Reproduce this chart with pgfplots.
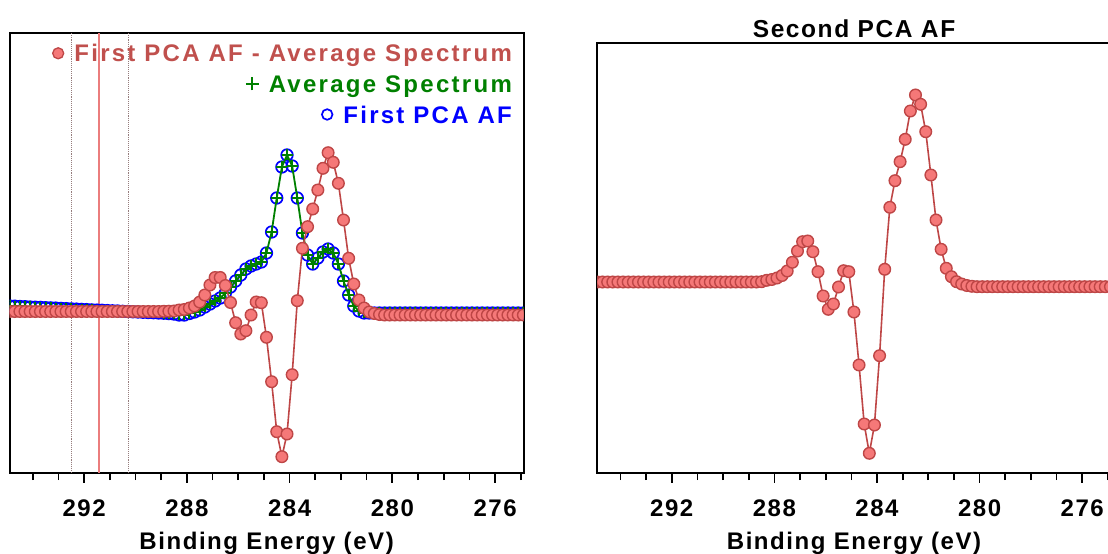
\documentclass[border=0pt]{standalone}
\usepackage{pgfplots}
\pgfplotsset{compat=1.18}
\usepackage{pgfplotstable}
\usepackage{fontspec}
\setmainfont{Liberation Sans}[LetterSpace=6.5]
\newfontfamily\legfont{Liberation Sans}[LetterSpace=9.5]
\definecolor{redfill}{RGB}{245,120,120}
\definecolor{redline}{RGB}{190,70,70}
\definecolor{redtext}{RGB}{192,80,77}
\definecolor{grn}{RGB}{0,128,0}
\definecolor{blu}{RGB}{0,0,255}
\definecolor{vline}{RGB}{235,125,125}
\definecolor{dotl}{RGB}{150,125,125}

% First panel: E, First PCA AF - Average, Average Spectrum, First PCA AF
\pgfplotstableread{
E     diff   avg    pca
294.9 161.5 167.0 167.0
294.7 161.5 166.8 166.8
294.5 161.5 166.5 166.5
294.3 161.5 166.3 166.3
294.1 161.5 166.0 166.0
293.9 161.5 165.8 165.8
293.7 161.5 165.6 165.6
293.5 161.5 165.3 165.3
293.3 161.5 165.1 165.1
293.1 161.5 164.9 164.9
292.9 161.5 164.6 164.6
292.7 161.5 164.4 164.4
292.5 161.5 164.1 164.1
292.3 161.5 163.9 163.9
292.1 161.5 163.6 163.6
291.9 161.5 163.4 163.4
291.7 161.5 163.1 163.1
291.5 161.5 162.9 162.9
291.3 161.5 162.7 162.7
291.1 161.5 162.4 162.4
290.9 161.5 162.2 162.2
290.7 161.5 162.0 162.0
290.5 161.5 161.7 161.7
290.3 161.5 161.5 161.5
290.1 161.5 161.2 161.2
289.9 161.5 161.0 161.0
289.7 161.5 160.7 160.7
289.5 161.5 160.5 160.5
289.3 161.5 160.3 160.3
289.1 161.5 160.0 160.0
288.9 161.7 159.8 159.8
288.7 161.8 159.4 159.4
288.5 162.0 159.0 159.0
288.3 163.0 158.0 158.0
288.1 163.5 158.0 158.0
287.9 165.0 159.5 159.5
287.7 167.0 161.0 161.0
287.5 171.0 163.0 163.0
287.3 178.0 166.0 166.0
287.1 188.0 169.0 169.0
286.9 195.5 172.0 172.0
286.7 195.5 175.0 175.0
286.5 187.5 180.0 180.0
286.3 170.5 186.0 186.0
286.1 150.3 192.0 192.0
285.9 139.0 198.0 198.0
285.7 142.3 204.0 204.0
285.5 158.0 207.0 207.0
285.3 171.0 209.0 209.0
285.1 170.3 211.0 211.0
284.9 135.7 220.0 220.0
284.7  91.3 241.0 241.0
284.5  41.3 275.0 275.0
284.3  16.3 306.0 306.0
284.1  39.0 318.0 318.0
283.9  98.3 307.0 307.0
283.7 172.3 275.0 275.0
283.5 224.7 240.0 240.0
283.3 246.3 218.0 218.0
283.1 264.0 209.0 209.0
282.9 283.0 215.0 215.0
282.7 304.7 221.0 221.0
282.5 320.3 224.0 224.0
282.3 310.7 220.0 220.0
282.1 289.7 209.0 209.0
281.9 253.0 192.0 192.0
281.7 214.7 178.0 178.0
281.5 189.0 167.0 167.0
281.3 173.0 162.0 162.0
281.1 165.0 160.0 160.0
280.9 161.0 160.0 160.0
280.7 159.5 160.0 160.0
280.5 158.5 160.0 160.0
280.3 158.0 160.0 160.0
280.1 158.0 160.0 160.0
279.9 158.0 160.0 160.0
279.7 158.0 160.0 160.0
279.5 158.0 160.0 160.0
279.3 158.0 160.0 160.0
279.1 158.0 160.0 160.0
278.9 158.0 160.0 160.0
278.7 158.0 160.0 160.0
278.5 158.0 160.0 160.0
278.3 158.0 160.0 160.0
278.1 158.0 160.0 160.0
277.9 158.0 160.0 160.0
277.7 158.0 160.0 160.0
277.5 158.0 160.0 160.0
277.3 158.0 160.0 160.0
277.1 158.0 160.0 160.0
276.9 158.0 160.0 160.0
276.7 158.0 160.0 160.0
276.5 158.0 160.0 160.0
276.3 158.0 160.0 160.0
276.1 158.0 160.0 160.0
275.9 158.0 160.0 160.0
275.7 158.0 160.0 160.0
275.5 158.0 160.0 160.0
275.3 158.0 160.0 160.0
275.1 158.0 160.0 160.0
274.9 158.0 160.0 160.0
}\leftdata

% Second panel: E, Second PCA AF
\pgfplotstableread{
E     sec
294.9 191.0
294.7 191.0
294.5 191.0
294.3 191.0
294.1 191.0
293.9 191.0
293.7 191.0
293.5 191.0
293.3 191.0
293.1 191.0
292.9 191.0
292.7 191.0
292.5 191.0
292.3 191.0
292.1 191.0
291.9 191.0
291.7 191.0
291.5 191.0
291.3 191.0
291.1 191.0
290.9 191.0
290.7 191.0
290.5 191.0
290.3 191.0
290.1 191.0
289.9 191.0
289.7 191.0
289.5 191.0
289.3 191.0
289.1 191.0
288.9 191.0
288.7 191.0
288.5 191.3
288.3 192.7
288.1 193.5
287.9 195.0
287.7 197.5
287.5 202.0
287.3 210.7
287.1 222.0
286.9 231.3
286.7 232.0
286.5 221.3
286.3 201.3
286.1 177.0
285.9 163.7
285.7 169.0
285.5 186.0
285.3 202.3
285.1 201.3
284.9 161.0
284.7 108.0
284.5  49.0
284.3  19.7
284.1  48.0
283.9 117.3
283.7 203.7
283.5 265.7
283.3 292.3
283.1 311.3
282.9 333.7
282.7 362.0
282.5 378.0
282.3 368.7
282.1 341.3
281.9 298.0
281.7 253.0
281.5 223.7
281.3 204.7
281.1 196.3
280.9 191.3
280.7 189.0
280.5 187.5
280.3 186.7
280.1 186.3
279.9 186.3
279.7 186.3
279.5 186.3
279.3 186.3
279.1 186.3
278.9 186.3
278.7 186.3
278.5 186.3
278.3 186.3
278.1 186.3
277.9 186.3
277.7 186.3
277.5 186.3
277.3 186.3
277.1 186.3
276.9 186.3
276.7 186.3
276.5 186.3
276.3 186.3
276.1 186.3
275.9 186.3
275.7 186.3
275.5 186.3
275.3 186.3
275.1 186.3
274.9 186.3
}\rightdata

\pgfplotsset{
  panel/.style={
    scale only axis,
    x dir=reverse,
    xmin=274.89, xmax=294.9,
    ymin=0.3,
    clip marker paths=true,
    axis line style={line width=1.9pt, black},
    ytick=\empty,
    xtick={276,280,284,288,292},
    minor xtick={275,276,...,294},
    xtick pos=bottom,
    tick align=outside,
    major tick length=10pt,
    minor tick length=7.5pt,
    major tick style={line width=1.7pt, black},
    minor tick style={line width=1.7pt, black},
    /pgf/number format/assume math mode=true,
    xticklabel style={font=\fontsize{24}{24}\selectfont\bfseries, anchor=north, inner sep=0pt, yshift=-16.7pt},
    xlabel={Binding Energy (eV)},
    xlabel style={font=\fontsize{24}{24}\selectfont\bfseries, at={(axis description cs:0.5,0)}, anchor=base, yshift=-76.6pt},
  },
  redplot/.style={color=redline, line width=1.6pt, mark=*, mark size=5.8pt,
    mark options={fill=redfill, draw=redline, line width=1.4pt}},
}

\begin{document}
\begin{tikzpicture}
\useasboundingbox (0,0) rectangle (1108pt,554pt);

\begin{axis}[panel,
  at={(9.6pt,81.3pt)}, anchor=south west,
  width=514pt, height=439.7pt, ymax=440,
  legend image code/.code={},
  legend cell align=right,
  legend style={at={(axis description cs:1,1)}, anchor=north east,
    xshift=-11.7pt, yshift=-11.7pt, draw=none, fill=none,
    inner sep=0pt, outer sep=0pt, row sep=8.4pt,
    font=\legfont\fontsize{24}{24}\selectfont\bfseries,
    nodes={inner sep=0pt, text height=17.2pt, text depth=5pt}},
]
\addplot[dotl, line width=0.9pt, densely dotted, forget plot] coordinates {(292.51,0.3) (292.51,440)};
\addplot[vline, line width=2pt, forget plot] coordinates {(291.40,0.3) (291.40,440)};
\addplot[dotl, line width=0.9pt, densely dotted, forget plot] coordinates {(290.29,0.3) (290.29,440)};

\addplot[blu, only marks, mark=o, mark size=5.8pt, line width=1.7pt, forget plot] table[x=E, y=pca] {\leftdata};
\addplot[grn, line width=1.8pt, mark=+, mark size=5.5pt, mark options={line width=2pt}, forget plot] table[x=E, y=avg] {\leftdata};
\addplot[redplot, forget plot] table[x=E, y=diff] {\leftdata};

\addlegendimage{empty legend}
\addlegendentry{\textcolor{redtext}{\tikz[baseline=-8.6pt]\draw[redline, fill=redfill, line width=1.3pt] (0,0) circle (5.5pt);\hspace{10pt}First PCA AF - Average Spectrum}}
\addlegendimage{empty legend}
\addlegendentry{\textcolor{grn}{\tikz[baseline=-8.6pt]\draw[grn, line width=2pt] (-6.5pt,0) -- (6.5pt,0) (0,-6.5pt) -- (0,6.5pt);\hspace{9pt}Average Spectrum}}
\addlegendimage{empty legend}
\addlegendentry{\textcolor{blu}{\tikz[baseline=-8.6pt]\draw[blu, line width=1.7pt] (0,0) circle (5.3pt);\hspace{10pt}First PCA AF}}
\end{axis}

\begin{axis}[panel,
  at={(597.4pt,81.3pt)}, anchor=south west,
  width=513.3pt, height=429.7pt, ymax=430,
  title={Second PCA AF},
  title style={font=\fontsize{24.5}{24.5}\selectfont\bfseries, at={(axis description cs:0.5,1)}, anchor=base, yshift=-0.7pt},
]
\addplot[redplot] table[x=E, y=sec] {\rightdata};
\end{axis}
\end{tikzpicture}
\end{document}
